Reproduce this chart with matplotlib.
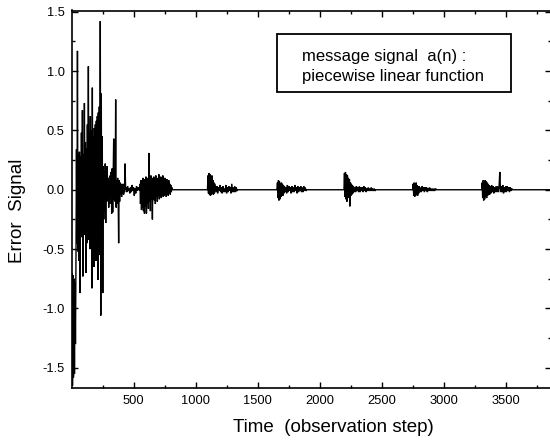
import numpy as np
import matplotlib
matplotlib.use("Agg")
import matplotlib.pyplot as plt
from matplotlib.patches import Rectangle

plt.rcParams['font.family'] = ['Liberation Sans', 'DejaVu Sans']

# ---------------- data ----------------
# Each burst: start step, sample spacing (steps), sampled error values
burst1_start, burst1_dt = 0, 4
burst1 = [-1.72, -0.70, -1.65, -0.72, -1.58, -0.75, -1.55, -0.78, -1.30, -0.60,
          0.34, -0.45, 1.17, -0.52, 0.30, -0.60, 0.32, -0.87,
          0.28, -0.40, 0.48, -0.35, 0.67, -0.73, 0.30, -0.38,
          0.73, -0.30, 0.40, -0.70, 0.35, -0.45, 0.55, -0.40,
          1.04, -0.42, 0.48, -0.50, 0.62, -0.45, 0.50, -0.83,
          0.86, -0.55, 0.45, -0.65, 0.52, -0.48, 0.55, -0.60,
          0.58, -0.50, 0.62, -0.76, 0.65, -0.45, 0.70, -0.55,
          1.42, -1.06, 0.81, -0.65, 0.45, -0.87, 0.20, -0.25,
          0.15, -0.12, 0.22, -0.28, 0.18, -0.10, 0.20, -0.08,
          0.10, -0.15, 0.08, -0.12, 0.12, -0.05, 0.15, -0.20,
          0.18, -0.19, 0.10, 0.43, -0.08, 0.12, -0.10, 0.76,
          -0.15, 0.08, -0.12, 0.10, -0.05, -0.45, 0.08, -0.10,
          0.06, -0.04, 0.05, -0.06, 0.04, -0.03, 0.05, -0.04,
          0.03, -0.02, 0.22, 0.00]

quiet1_start, quiet1_dt = 440, 6
quiet1 = [0.02, -0.02, 0.03, -0.01, 0.01, -0.03, 0.02, -0.02, 0.04, -0.01,
          0.02, -0.05, 0.01, -0.03, 0.03, -0.01, 0.02, 0.00]

burst2_start, burst2_dt = 548, 4
burst2 = [0.00, 0.05, -0.12, 0.08, -0.17, 0.06, -0.15, 0.10, -0.18, 0.07,
          -0.20, 0.09, -0.14, 0.11, -0.20, 0.08, -0.12, 0.10, -0.16, 0.31,
          -0.10, 0.08, -0.18, 0.12, -0.08, 0.09, -0.25, 0.10, -0.07, 0.11,
          -0.09, 0.08, -0.12, 0.12, -0.06, 0.09, -0.10, 0.10, -0.05, 0.13,
          -0.08, 0.07, -0.06, 0.11, -0.07, 0.09, -0.05, 0.12, -0.06, 0.08,
          -0.05, 0.10, -0.04, 0.07, -0.06, 0.09, -0.04, 0.06, -0.05, 0.08,
          -0.03, 0.05, -0.04, 0.04, -0.02, 0.02, 0.00]

burst3_start, burst3_dt = 1096, 4
burst3 = [0.00, 0.12, -0.03, 0.14, -0.04, 0.13, -0.05, 0.10, -0.04, 0.12,
          -0.03, 0.08, -0.04, 0.06, -0.03, 0.05]
tail3_start, tail3_dt = 1160, 6
tail3 = [0.02, -0.02, 0.03, -0.03, 0.02, -0.01, 0.04, -0.02, 0.02, -0.03,
         0.03, -0.02, 0.01, -0.02, 0.04, -0.03, 0.02, -0.02, 0.03, -0.01,
         0.02, -0.03, 0.05, -0.02, 0.02, -0.02, 0.03, -0.02, 0.02, -0.01, 0.00]

burst4_start, burst4_dt = 1656, 4
burst4 = [0.00, 0.06, -0.07, 0.08, -0.09, 0.07, -0.08, 0.05, -0.06, 0.06,
          -0.04, 0.05, -0.05, 0.04, -0.03]
tail4_start, tail4_dt = 1716, 6
tail4 = [0.03, -0.02, 0.02, -0.03, 0.04, -0.02, 0.03, -0.01, 0.02, -0.03,
         0.03, -0.02, 0.02, -0.02, 0.04, -0.01, 0.02, -0.03, 0.03, -0.02,
         0.02, -0.01, 0.03, -0.02, 0.02, -0.02, 0.03, -0.01, 0.02, -0.01, 0.00]

burst5_start, burst5_dt = 2196, 4
burst5 = [0.00, 0.14, -0.06, 0.15, -0.08, 0.13, -0.10, 0.12, -0.07, 0.10,
          -0.06, 0.09, -0.14, 0.06, -0.05, 0.05, -0.04, 0.04, -0.03]
tail5_start, tail5_dt = 2272, 6
tail5 = [0.03, -0.02, 0.02, -0.02, 0.03, -0.01, 0.02, -0.02, 0.03, -0.02,
         0.02, -0.01, 0.02, -0.02, 0.03, -0.01, 0.02, -0.02, 0.01, -0.01,
         0.02, -0.01, 0.01, -0.01, 0.02, -0.01, 0.01, -0.01, 0.01, -0.01, 0.00]

burst6_start, burst6_dt = 2750, 4
burst6 = [0.00, 0.05, -0.05, 0.06, -0.06, 0.05, -0.05, 0.06, -0.04, 0.04,
          -0.05, 0.03, -0.03]
tail6_start, tail6_dt = 2802, 6
tail6 = [0.03, -0.02, 0.02, -0.02, 0.03, -0.01, 0.02, -0.02, 0.02, -0.01,
         0.02, -0.02, 0.01, -0.01, 0.02, -0.01, 0.01, -0.01, 0.01, -0.01,
         0.01, -0.01, 0.01, 0.00]

burst7_start, burst7_dt = 3306, 4
burst7 = [0.00, 0.06, -0.07, 0.08, -0.09, 0.07, -0.08, 0.08, -0.06, 0.07,
          -0.07, 0.06, -0.05, 0.05, -0.04, 0.04, -0.04]
tail7_start, tail7_dt = 3374, 6
tail7 = [0.03, -0.03, 0.04, -0.02, 0.03, -0.03, 0.02, -0.02, 0.03, -0.02,
         0.03, -0.02, 0.02, 0.15, -0.02, 0.03, -0.02, 0.04, -0.03, 0.02,
         -0.02, 0.03, -0.02, 0.03, -0.01, 0.02, -0.02, 0.02, -0.01, 0.01, 0.00]

end_step, end_value = 3880, 0.0

xtick_values = [500, 1000, 1500, 2000, 2500, 3000, 3500]
xtick_labels = ['500', '1000', '1500', '2000', '2500', '3000', '3500']
ytick_values = [-1.5, -1.0, -0.5, 0.0, 0.5, 1.0, 1.5]
ytick_labels = ['-1.5', '-1.0', '-0.5', '0.0', '0.5', '1.0', '1.5']

legend_lines = ['message signal  a(n) :', 'piecewise linear function']
xlabel = 'Time  (observation step)'
ylabel = 'Error  Signal'

# ---------------- assemble the series ----------------
segments = [
    (burst1_start, burst1_dt, burst1),
    (quiet1_start, quiet1_dt, quiet1),
    (burst2_start, burst2_dt, burst2),
    (burst3_start, burst3_dt, burst3),
    (tail3_start, tail3_dt, tail3),
    (burst4_start, burst4_dt, burst4),
    (tail4_start, tail4_dt, tail4),
    (burst5_start, burst5_dt, burst5),
    (tail5_start, tail5_dt, tail5),
    (burst6_start, burst6_dt, burst6),
    (tail6_start, tail6_dt, tail6),
    (burst7_start, burst7_dt, burst7),
    (tail7_start, tail7_dt, tail7),
]
t_parts, y_parts = [], []
for start, dt, vals in segments:
    t_parts.append(start + dt * np.arange(len(vals)))
    y_parts.append(np.asarray(vals, dtype=float))
t_parts.append(np.array([end_step]))
y_parts.append(np.array([end_value]))
t = np.concatenate(t_parts)
y = np.concatenate(y_parts)

# ---------------- figure ----------------
W, H = 550, 443
fig = plt.figure(figsize=(W / 100, H / 100), dpi=100)
ax_l, ax_r, ax_t, ax_b = 71.5, 551.0, 10.5, 388.0
ax = fig.add_axes([ax_l / W, 1 - ax_b / H, (ax_r - ax_l) / W, (ax_b - ax_t) / H])

ax.plot(t, y, color='black', lw=1.0, solid_joinstyle='miter')

ax.set_xlim(0, (ax_r - ax_l) / 0.12407)
ax.set_ylim(-1.67, 1.51)

ax.set_xticks(xtick_values)
ax.set_xticklabels(xtick_labels)
ax.set_xticks(np.arange(250, 3900, 500), minor=True)
ax.set_yticks(ytick_values)
ax.set_yticklabels(ytick_labels)
ax.set_yticks(np.arange(-1.25, 1.5, 0.5), minor=True)

ax.tick_params(which='both', direction='in', top=True, right=True,
               width=1.0, labelsize=9.3, pad=5, colors='black')
ax.tick_params(which='major', length=4.5)
ax.tick_params(which='minor', length=2.5)
for s in ax.spines.values():
    s.set_linewidth(1.2)

fig.text(17.5 / W, 1 - 211 / H, ylabel, rotation=90, ha='center', va='center',
         fontsize=13.5)
fig.text(333 / W, 1 - 427 / H, xlabel, ha='center', va='center', fontsize=13.5)

# legend-style annotation box
bx0, by0, bx1, by1 = 277.3, 34.3, 510.7, 91.7
fig.patches.append(Rectangle((bx0 / W, 1 - by1 / H), (bx1 - bx0) / W, (by1 - by0) / H,
                             transform=fig.transFigure, fill=False,
                             edgecolor='black', linewidth=1.3))
fig.text(301.7 / W, 1 - 56 / H, legend_lines[0], ha='left', va='center', fontsize=12)
fig.text(301.7 / W, 1 - 76 / H, legend_lines[1], ha='left', va='center', fontsize=12)

fig.savefig('out.png', dpi=100)
